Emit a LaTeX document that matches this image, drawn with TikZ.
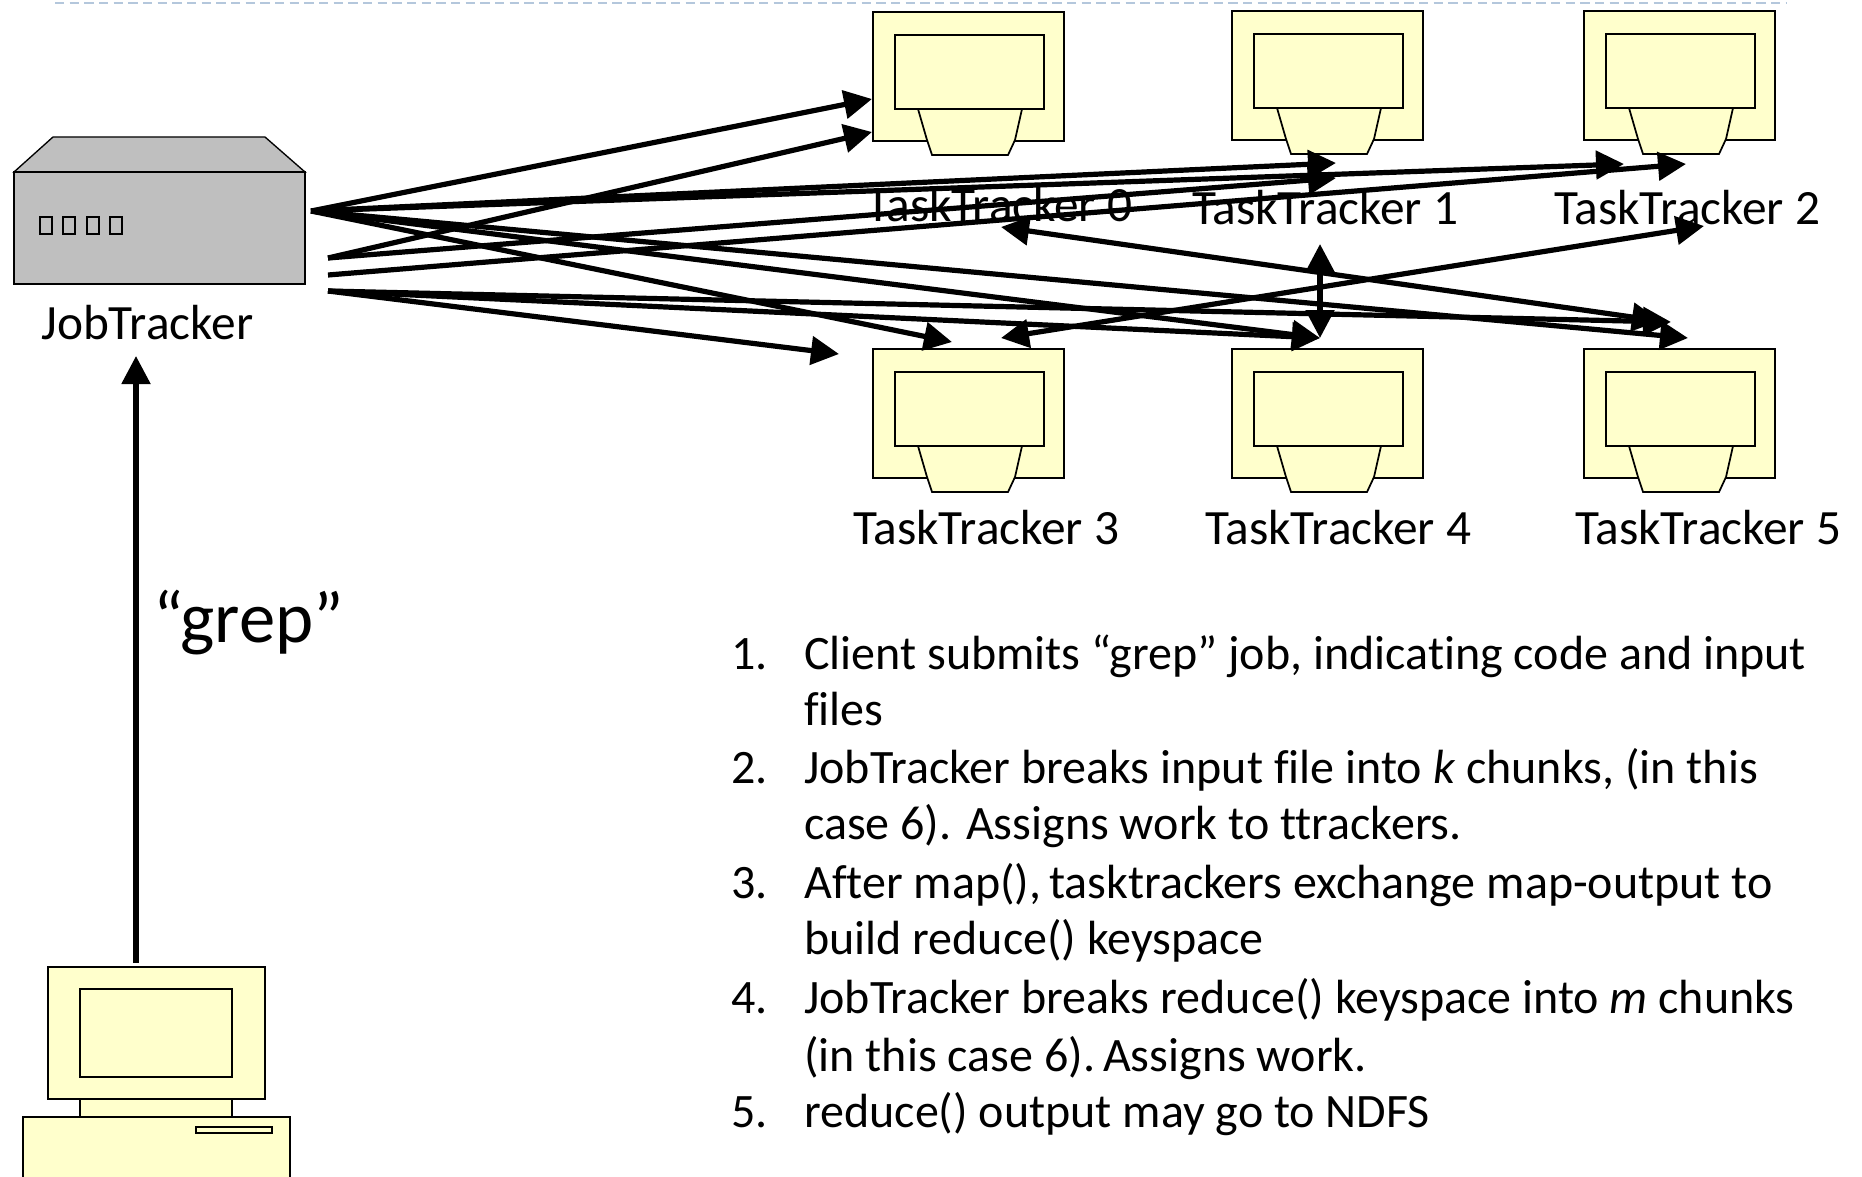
\documentclass[tikz,border=0pt]{standalone}
\usepackage{fontspec}
\setmainfont[Ligatures={NoCommon}]{Carlito}
\usetikzlibrary{arrows.meta}
\definecolor{boxyellow}{HTML}{FFFFCC}
\definecolor{servergrey}{HTML}{BFBFBF}
\definecolor{ruleblue}{HTML}{B4C7DC}
\newcommand{\lblfont}{\fontsize{37}{37}\selectfont}
\newcommand{\lstfont}{\fontsize{36}{36}\selectfont}
\tikzset{
  unit/.style={draw=black,line width=1.3pt,fill=boxyellow},
  lbl/.style={anchor=base west,inner sep=0pt,font=\lblfont},
  lst/.style={anchor=base west,inner sep=0pt,font=\lstfont},
  flow/.style={draw=black,line width=3.9pt,-{Triangle[length=21pt,width=21pt]}},
  both/.style={draw=black,line width=3.9pt,{Triangle[length=21pt,width=21pt]}-{Triangle[length=21pt,width=21pt]}},
  pics/trackerbox/.style={code={
    \draw[unit] (0,0) rectangle (191,129);
    \draw[unit] (22,23) rectangle (171,97);
    \draw[unit] (45,97) -- (54,128) -- (59,143) -- (135,143) -- (142,128) -- (149,97) -- cycle;
  }}
}
\begin{document}
\begin{tikzpicture}[x=0.75pt,y=-0.75pt]
\useasboundingbox (0,0) rectangle (1862,1177);
\fill[white] (0,0) rectangle (1862,1177);
% top rule
\coordinate (ruleL) at (55,3);
\coordinate (ruleR) at (1787,3);
\draw[ruleblue,line width=1.5pt,dash pattern=on 7pt off 4pt] (ruleL) -- (ruleR);
% trackers
\pic at (873,12) {trackerbox};
\pic at (1232,11) {trackerbox};
\pic at (1584,11) {trackerbox};
\pic at (873,349) {trackerbox};
\pic at (1232,349) {trackerbox};
\pic at (1584,349) {trackerbox};
% server
\draw[draw=black,line width=1pt,fill=servergrey] (14,172) -- (53,137) -- (265,137) -- (305,172) -- cycle;
\draw[draw=black,line width=1pt,fill=servergrey] (14,172) rectangle (305,284);
\foreach \sx in {40,63,87,110}
  \draw[draw=black,line width=1pt,fill=servergrey] (\sx,217) rectangle ++(12,17);
% client
\fill[boxyellow] (23,1117) rectangle (290,1177);
\draw[draw=black,line width=1pt] (23,1177) -- (23,1117) -- (290,1117) -- (290,1177);
\draw[unit,line width=1pt] (80,1099) rectangle (232,1117);
\draw[unit,line width=1pt] (48,967) rectangle (265,1099);
\draw[unit,line width=1pt] (80,989) rectangle (232,1077);
\draw[unit,line width=1pt] (196,1127) rectangle (272,1133);
% labels
\node[lbl] (job) at (41,339) {JobTracker};
\node[lbl] (t0) at (866,221) {TaskTracker 0};
\node[lbl] (t1) at (1192,224) {TaskTracker 1};
\node[lbl] (t2) at (1554,224) {TaskTracker 2};
\node[lbl] (t3) at (853,544) {TaskTracker 3};
\node[lbl] (t4) at (1205,544) {TaskTracker 4};
\node[lbl] (t5) at (1575,544) {TaskTracker 5};
\node[anchor=base west,inner sep=0pt,font=\fontsize{54.5}{55}\selectfont] (grep) at (153,642) {“grep”};
% list
\node[lst] (n1) at (731,669) {1.};
\node[lst] (l1a) at (804,669) {Client submits “grep” job, indicating code and input};
\node[lst] (l1b) at (804,725) {files};
\node[lst] (n2) at (731,783) {2.};
\node[lst] (l2a) at (804,783) {JobTracker breaks input file into \textit{k} chunks, (in this};
\node[lst] (l2b) at (804,839) {case 6).  Assigns work to ttrackers.};
\node[lst] (n3) at (731,898) {3.};
\node[lst] (l3a) at (804,898) {After map(),\,tasktrackers exchange map-output to};
\node[lst] (l3b) at (804,954) {build reduce() keyspace};
\node[lst] (n4) at (731,1013) {4.};
\node[lst] (l4a) at (804,1013) {JobTracker breaks reduce() keyspace into \textit{m} chunks};
\node[lst] (l4b) at (804,1071) {(in this case 6).\,Assigns work.};
\node[lst] (n5) at (731,1127) {5.};
\node[lst] (l5a) at (804,1127) {reduce() output may go to NDFS};
% arrow anchors
\coordinate (A) at (311,211);
\coordinate (B) at (328,258);
\coordinate (C) at (328,275);
\coordinate (D) at (328,291);
\coordinate (t0a) at (872,99);
\coordinate (t0b) at (872,132);
\coordinate (t1a) at (1336,163);
\coordinate (t1b) at (1336,178);
\coordinate (t2a) at (1624,164);
\coordinate (t2b) at (1686,164);
\coordinate (t3a) at (839,354);
\coordinate (t3b) at (952,342);
\coordinate (t4a) at (1320,338);
\coordinate (t5a) at (1671,322);
\coordinate (t5b) at (1688,338);
\coordinate (x0) at (1001,227);
\coordinate (x5) at (1660,321);
\coordinate (y1) at (1320,244);
\coordinate (y4) at (1320,338);
\coordinate (z3) at (1001,338);
\coordinate (z2) at (1704,226);
\coordinate (gs) at (136,963);
\coordinate (ge) at (136,356);
\draw[flow] (A) -- (t0a);
\draw[flow] (B) -- (t0b);
\draw[flow] (A) -- (t1a);
\draw[flow] (B) -- (t1b);
\draw[flow] (A) -- (t2a);
\draw[flow] (C) -- (t2b);
\draw[flow] (A) -- (t3b);
\draw[flow] (D) -- (t3a);
\draw[flow] (A) -- (t4a);
\draw[flow] (D) -- (t4a);
\draw[flow] (A) -- (t5b);
\draw[flow] (D) -- (t5a);
\draw[both] (x0) -- (x5);
\draw[both] (y1) -- (y4);
\draw[both] (z3) -- (z2);
\draw[flow] (gs) -- (ge);
\end{tikzpicture}
\end{document}
